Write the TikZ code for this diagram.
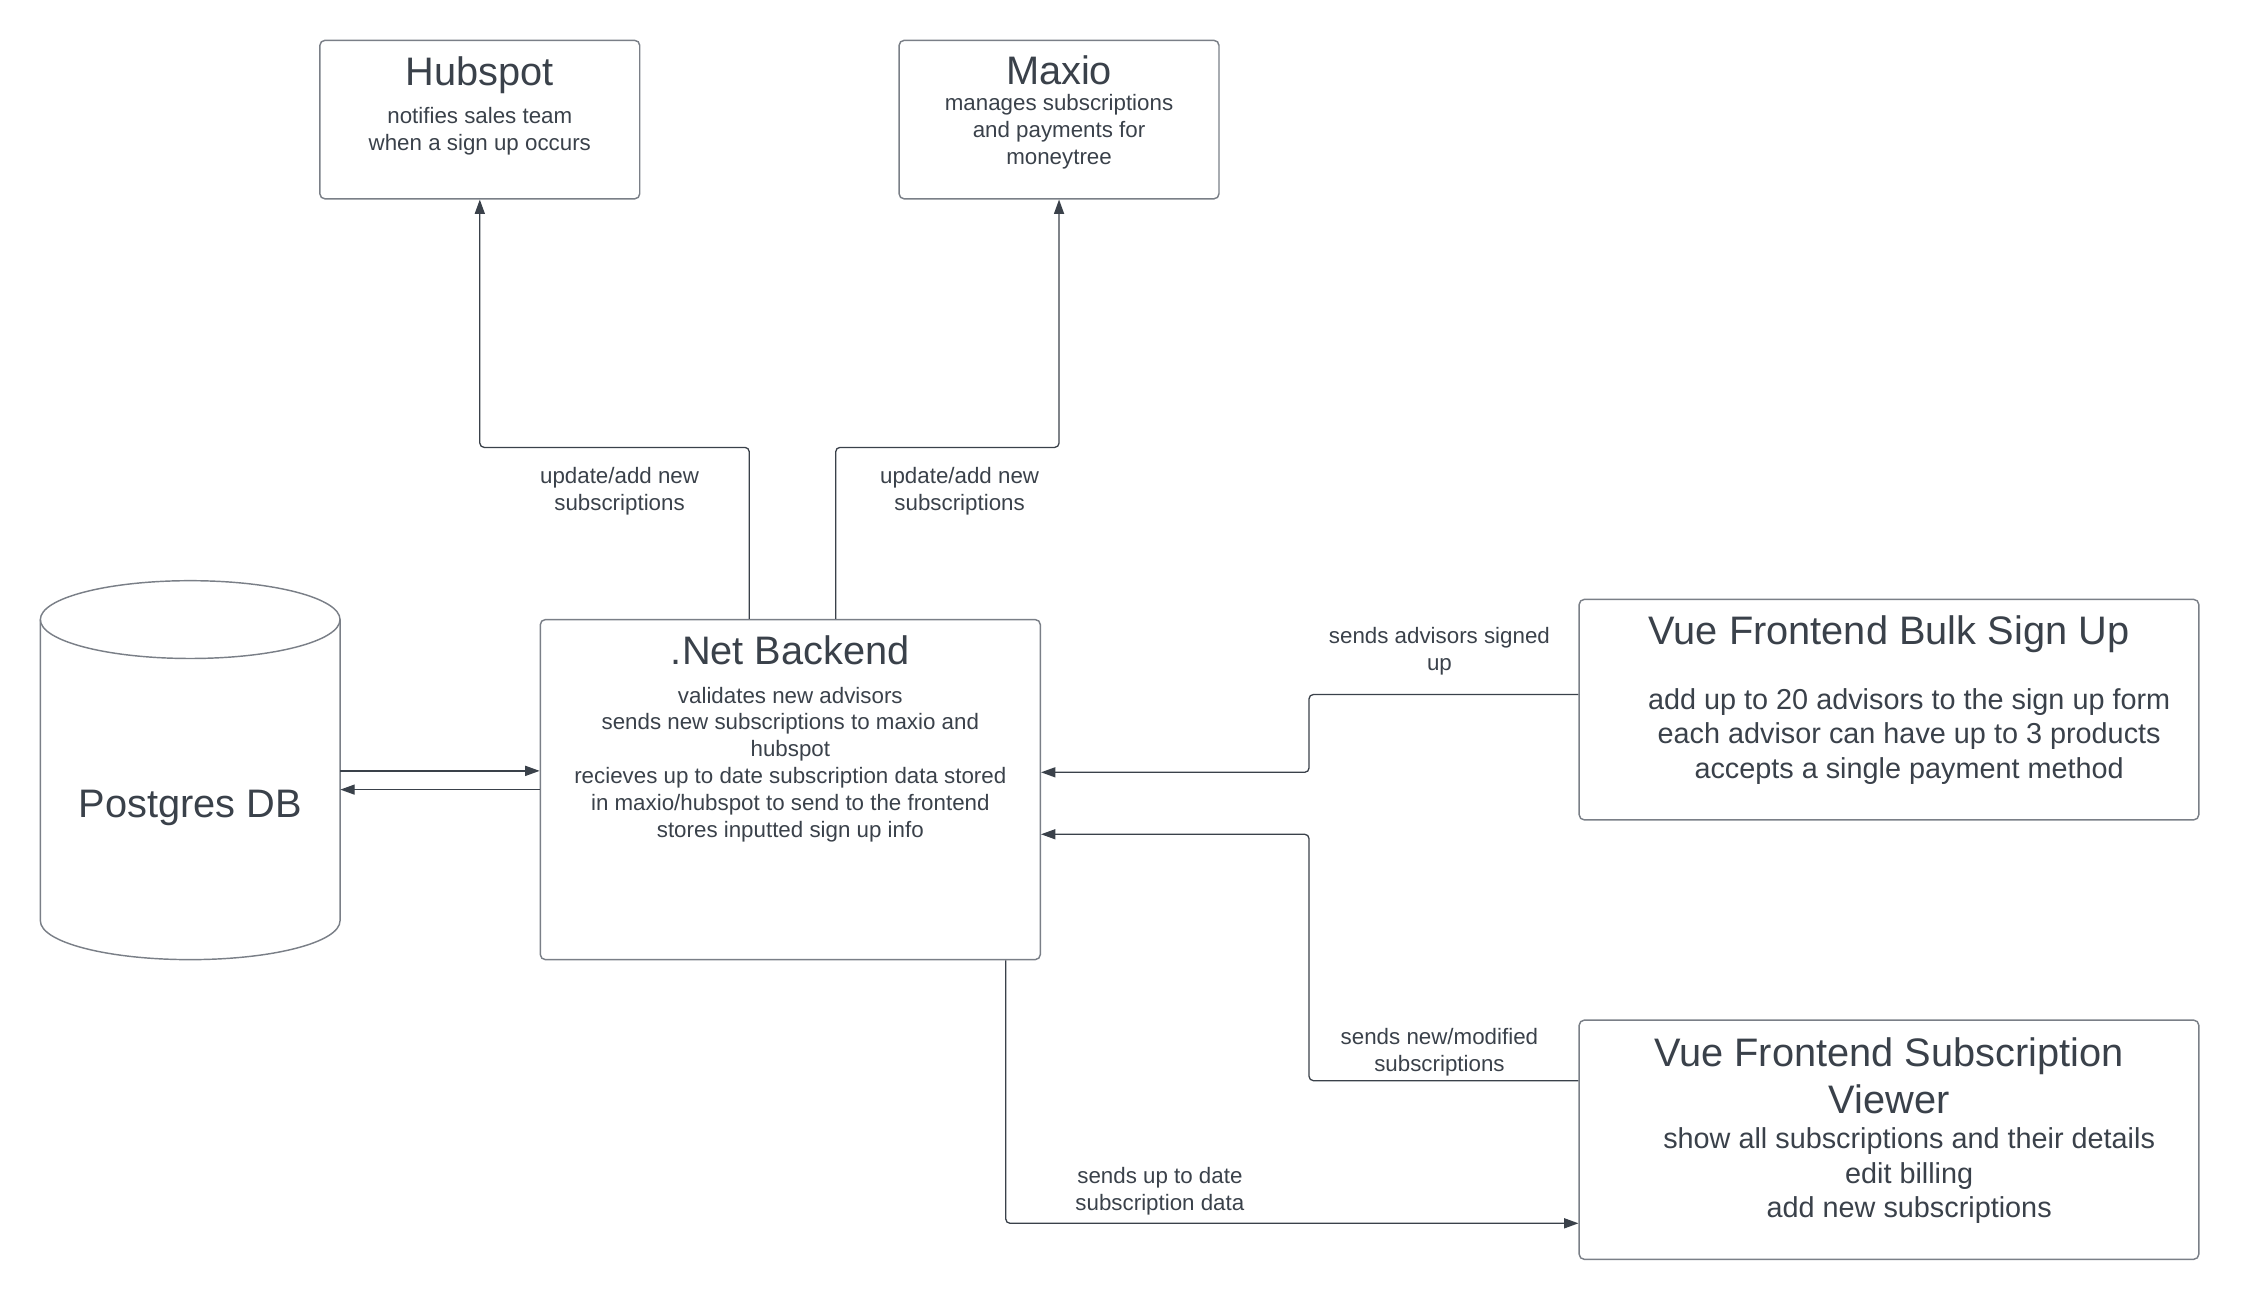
\documentclass[tikz,border=0pt]{standalone}
\usepackage{fontspec}
\setmainfont{Liberation Sans}
\usetikzlibrary{arrows.meta}
\definecolor{InkGray}{HTML}{3A414A}
\definecolor{LineGray}{HTML}{7A7F87}

\begin{document}
\begin{tikzpicture}[x=1pt,y=-1pt,
    Box/.style={draw=LineGray,line width=1pt,rounded corners=3.5pt,inner sep=0pt},
    Title/.style={text=InkGray,font=\fontsize{27.6}{33}\selectfont,align=center,inner sep=0pt},
    Body/.style={text=InkGray,font=\fontsize{20}{24}\selectfont,align=center,inner sep=0pt},
    Small/.style={text=InkGray,font=\fontsize{15.5}{18.6}\selectfont,align=center,inner sep=0pt},
    Link/.style={draw=InkGray,line width=0.9pt,rounded corners=3pt,-{Triangle[length=10pt,width=7pt]}}]
    \useasboundingbox (0,0) rectangle (1568.5,908.5);
    % services
    \node[Box,minimum width=222pt,minimum height=110pt] (Hubspot) at (333,83) {};
    \node[Title] (HubspotTitle) at (333,52) {Hubspot};
    \node[Small] (HubspotText) at (333,91) {notifies sales team\\when a sign up occurs};
    \node[Box,minimum width=222pt,minimum height=110pt] (Maxio) at (735,83) {};
    \node[Title] (MaxioTitle) at (735,49) {Maxio};
    \node[Small] (MaxioText) at (735,91.5) {manages subscriptions\\and payments for\\moneytree};
    % backend
    \node[Box,minimum width=347pt,minimum height=236pt] (Backend) at (548.5,548) {};
    \node[Title] (BackendTitle) at (548.5,451) {.Net Backend};
    \node[Small] (BackendText) at (548.5,530.5) {validates new advisors\\sends new subscriptions to maxio and\\hubspot\\recieves up to date subscription data stored\\in maxio/hubspot to send to the frontend\\stores inputted sign up info};
    % database
    \node[Title,minimum width=208pt] (Postgres) at (132,561) {Postgres DB};
    \draw[LineGray,line width=1pt] (28,430) -- (28,639) arc[start angle=180,end angle=360,x radius=104pt,y radius=27pt] -- (236,430);
    \draw[LineGray,line width=1pt] (132,430) ellipse[x radius=104pt,y radius=27pt];
    % frontends
    \node[Box,minimum width=430pt,minimum height=153pt] (BulkSignUp) at (1311,492.5) {};
    \node[Title] (BulkSignUpTitle) at (1311,440) {Vue Frontend Bulk Sign Up};
    \node[Body] (BulkSignUpText) at (1325,511) {add up to 20 advisors to the sign up form\\each advisor can have up to 3 products\\accepts a single payment method};
    \node[Box,minimum width=430pt,minimum height=166pt] (SubViewer) at (1311,791) {};
    \node[Title] (SubViewerTitle) at (1311,746.5) {Vue Frontend Subscription\\Viewer};
    \node[Body] (SubViewerText) at (1325,816) {show all subscriptions and their details\\edit billing\\add new subscriptions};
    % connectors
    \draw[Link] ([xshift=-28.5pt]Backend.north) -- ++(0pt,119pt) -| (Hubspot.south);
    \draw[Link] ([xshift=31.5pt]Backend.north) -- ++(0pt,119pt) -| (Maxio.south);
    \node[Small] (HubspotLabel) at (430,341) {update/add new\\subscriptions};
    \node[Small] (MaxioLabel) at (666,341) {update/add new\\subscriptions};
    \draw[Link] ([yshift=26pt]Postgres.east) coordinate(DbIn) -- (DbIn -| Backend.west);
    \draw[Link] (Backend.west) -- (Backend.west -| Postgres.east);
    \draw[Link] ([yshift=10.5pt]BulkSignUp.west) -- ++(-187pt,0pt) |- ([yshift=12pt]Backend.east);
    \node[Small] (BulkLabel) at (999,452) {sends advisors signed\\up};
    \draw[Link] ([yshift=41pt]SubViewer.west) -- ++(-187pt,0pt) |- ([yshift=-31pt]Backend.east);
    \node[Small] (ModifiedLabel) at (999,730) {sends new/modified\\subscriptions};
    \draw[Link] ([xshift=149.5pt]Backend.south) |- ([yshift=-58pt]SubViewer.west);
    \node[Small] (DataLabel) at (805,827) {sends up to date\\subscription data};
\end{tikzpicture}
\end{document}
